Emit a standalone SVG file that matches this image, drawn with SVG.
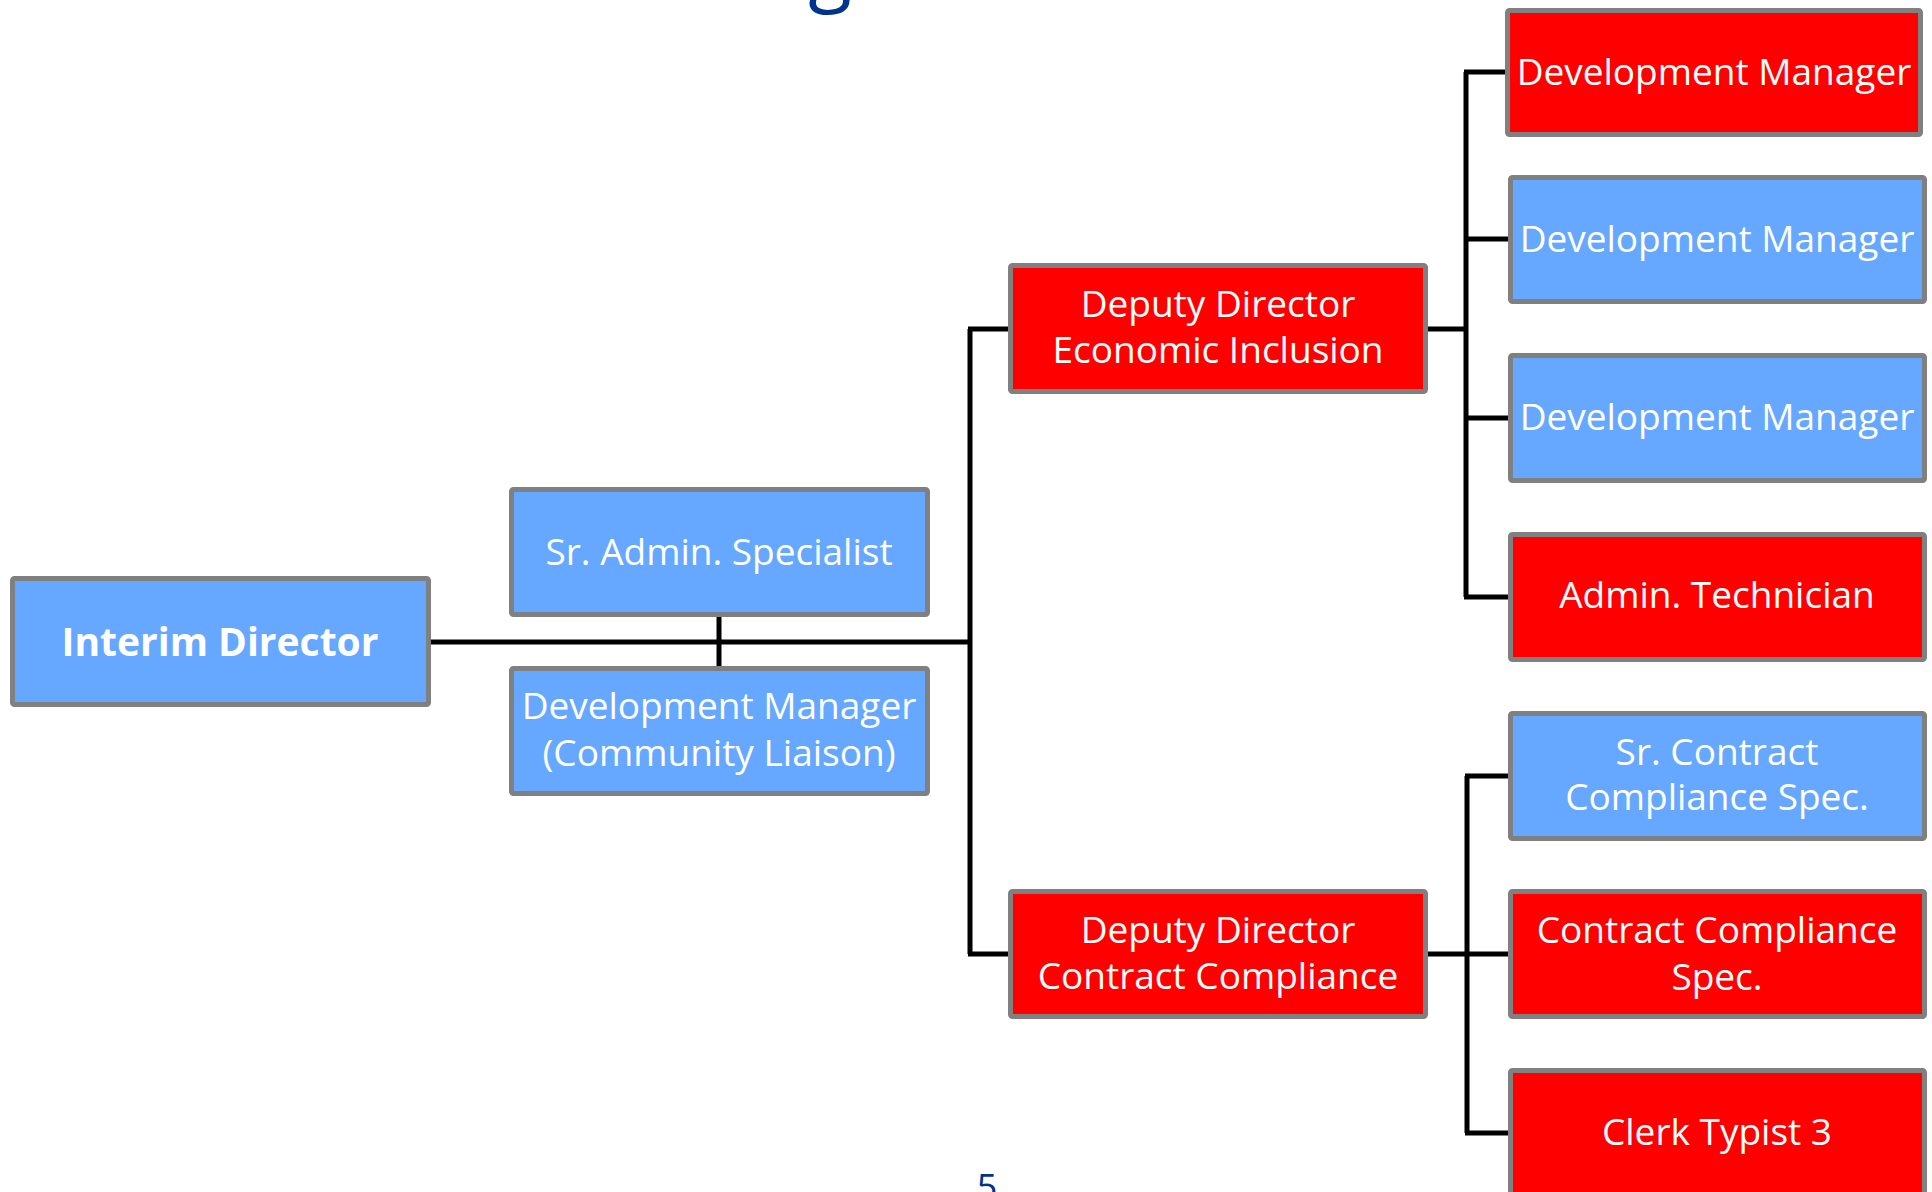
<svg xmlns="http://www.w3.org/2000/svg" width="1932" height="1192" viewBox="0 0 1932 1192">
<style>
.box{stroke:#808080;stroke-width:5}
.blue{fill:#66A7FF}
.red{fill:#FF0000}
.t{font-family:"Open Sans","Noto Sans","Liberation Sans",sans-serif;font-size:37px;fill:#FFFFFF;text-anchor:middle}
.b{font-weight:bold;font-size:39px}
.conn{stroke:#000000;stroke-width:5;fill:none}
.ttl{font-family:"Open Sans","Noto Sans","Liberation Sans",sans-serif;fill:#00338D;text-anchor:middle}
</style>
<rect width="1932" height="1192" fill="#FFFFFF"/>
<text class="ttl" x="830" y="-4" font-size="80">g</text>
<text class="ttl" x="987" y="1200" font-size="36">5</text>
<g id="connectors">
<path class="conn" d="M431 642H970"/>
<path class="conn" d="M719 617V666"/>
<path class="conn" d="M970 329V954"/>
<path class="conn" d="M968 329H1008M968 954H1008"/>
<path class="conn" d="M1428 329H1466"/>
<path class="conn" d="M1466 72V597"/>
<path class="conn" d="M1464 72H1505M1464 239H1508M1464 418H1508M1464 597H1508"/>
<path class="conn" d="M1428 954H1508"/>
<path class="conn" d="M1467 776V1133"/>
<path class="conn" d="M1465 776H1508M1465 1133H1508"/>
</g>
<g id="interim-director">
<rect class="box blue" x="12.5" y="578.5" width="416" height="126" rx="2"/>
<text class="t b" x="220" y="656">Interim Director</text>
</g>
<g id="sr-admin-specialist">
<rect class="box blue" x="511.5" y="489.5" width="416" height="125" rx="2"/>
<text class="t" x="719" y="565">Sr. Admin. Specialist</text>
</g>
<g id="dev-manager-community">
<rect class="box blue" x="511.5" y="668.5" width="416" height="125" rx="2"/>
<text class="t" x="719" y="719">Development Manager</text>
<text class="t" x="719" y="766">(Community Liaison)</text>
</g>
<g id="deputy-director-ei">
<rect class="box red" x="1010.5" y="265.5" width="415" height="126" rx="2"/>
<text class="t" x="1218" y="317">Deputy Director</text>
<text class="t" x="1218" y="363">Economic Inclusion</text>
</g>
<g id="deputy-director-cc">
<rect class="box red" x="1010.5" y="891.5" width="415" height="125" rx="2"/>
<text class="t" x="1218" y="943">Deputy Director</text>
<text class="t" x="1218" y="989">Contract Compliance</text>
</g>
<g id="dev-manager-1">
<rect class="box red" x="1507.5" y="10.5" width="413" height="124" rx="2"/>
<text class="t" x="1714" y="85">Development Manager</text>
</g>
<g id="dev-manager-2">
<rect class="box blue" x="1510.5" y="177.5" width="414" height="124" rx="2"/>
<text class="t" x="1717" y="252">Development Manager</text>
</g>
<g id="dev-manager-3">
<rect class="box blue" x="1510.5" y="355.5" width="414" height="125" rx="2"/>
<text class="t" x="1717" y="430">Development Manager</text>
</g>
<g id="admin-technician">
<rect class="box red" x="1510.5" y="534.5" width="414" height="125" rx="2"/>
<text class="t" x="1717" y="608">Admin. Technician</text>
</g>
<g id="sr-contract-compliance">
<rect class="box blue" x="1510.5" y="713.5" width="414" height="125" rx="2"/>
<text class="t" x="1717" y="765">Sr. Contract</text>
<text class="t" x="1717" y="810">Compliance Spec.</text>
</g>
<g id="contract-compliance-spec">
<rect class="box red" x="1510.5" y="891.5" width="414" height="125" rx="2"/>
<text class="t" x="1717" y="943">Contract Compliance</text>
<text class="t" x="1717" y="990">Spec.</text>
</g>
<g id="clerk-typist-3">
<rect class="box red" x="1510.5" y="1070.5" width="414" height="125" rx="2"/>
<text class="t" x="1717" y="1145">Clerk Typist 3</text>
</g>
</svg>
